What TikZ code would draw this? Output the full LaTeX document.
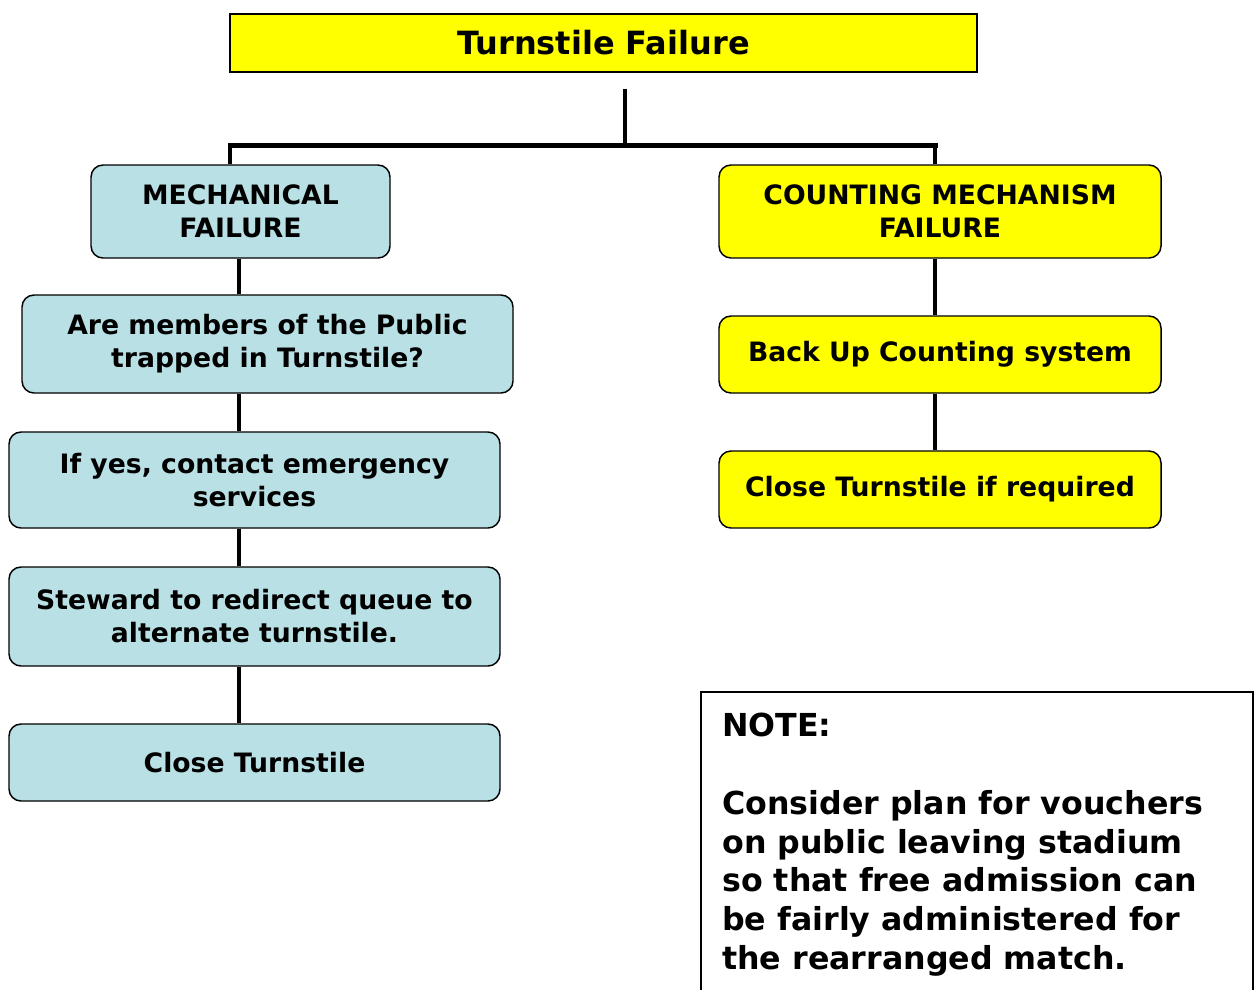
\documentclass[tikz,border=0pt]{standalone}
\usepackage{fontspec}
\setmainfont{DejaVu Sans}
\usepackage{tikz}
\definecolor{paleblue}{RGB}{185,224,228}
\definecolor{signyellow}{RGB}{255,255,0}

\begin{document}
\begin{tikzpicture}[x=0.75pt,y=-0.75pt,
  box/.style={draw,rounded corners=9pt,line width=1.1pt,align=center,inner sep=0pt,
    font=\bfseries\fontsize{20}{24.75}\selectfont},
  mech/.style={box,fill=paleblue,minimum width=368.25pt},
  count/.style={box,fill=signyellow,minimum width=331.5pt},
  link/.style={line width=3pt},
  trunk/.style={line width=3.75pt,line cap=rect}]
  \useasboundingbox (0,0) rectangle (1255,989);

  \node[draw,line width=0.9pt,fill=signyellow,minimum width=560.25pt,minimum height=43.5pt,
    font=\bfseries\fontsize{24}{29}\selectfont] (TF) at (603.5,43) {Turnstile Failure};

  % left branch
  \node[mech,minimum width=224.25pt,minimum height=69.75pt] (MF) at (240.5,211.5) {MECHANICAL\\FAILURE};
  \node[mech,minimum height=73.5pt] (Q) at (267.5,344) {Are members of the Public\\trapped in Turnstile?};
  \node[mech,minimum height=72pt] (Y) at (254.5,480) {If yes, contact emergency\\services};
  \node[mech,minimum height=74.25pt] (S) at (254.5,616.5) {Steward to redirect queue to\\alternate turnstile.};
  \node[mech,minimum height=57.75pt] (CT) at (254.5,762.5) {Close Turnstile};

  % right branch
  \node[count,minimum height=69.75pt] (CF) at (940,211.5) {COUNTING MECHANISM\\FAILURE};
  \node[count,minimum height=57.75pt] (BU) at (940,354.5) {Back Up Counting system};
  \node[count,minimum height=57.75pt] (CR) at (940,489.5) {Close Turnstile if required};

  \coordinate (JL) at (230,145);
  \coordinate (JT) at (625,145);
  \coordinate (JR) at (935,145);
  \coordinate (LX) at (239,0);

  \draw[link] ([yshift=-12pt]TF.south -| JT) -- (JT);
  \draw[trunk] (JL) -- (JR);
  \draw[link] (JL) -- (JL |- MF.north);
  \draw[link] (JR) -- (JR |- CF.north);

  \draw[link] (MF.south -| LX) -- (Q.north -| LX);
  \draw[link] (Q.south -| LX) -- (Y.north -| LX);
  \draw[link] (Y.south -| LX) -- (S.north -| LX);
  \draw[link] (S.south -| LX) -- (CT.north -| LX);

  \draw[link] (CF.south -| JR) -- (BU.north -| JR);
  \draw[link] (BU.south -| JR) -- (CR.north -| JR);

  % note, open at the bottom
  \draw[line width=1.1pt] (701,1000) |- (1253,692) -- (1253,1000);
  \node[anchor=north west,align=left,inner sep=0pt,
    font=\bfseries\fontsize{23.75}{29.1}\selectfont] (N) at (722,713)
    {NOTE:\\[29.1pt]Consider plan for vouchers\\on public leaving stadium\\so that free admission can\\be fairly administered for\\the rearranged match.};
\end{tikzpicture}
\end{document}
